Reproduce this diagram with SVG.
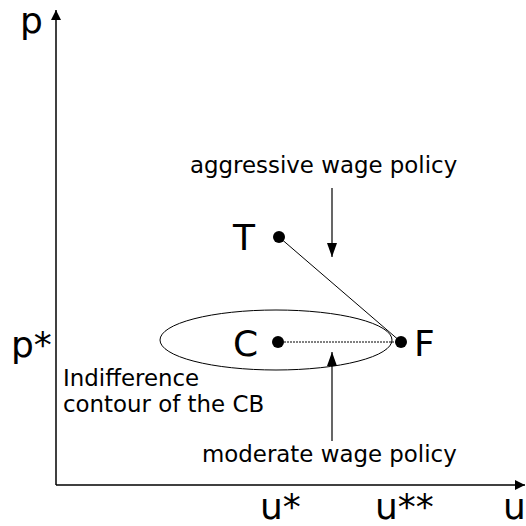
<svg xmlns="http://www.w3.org/2000/svg" width="526" height="526" viewBox="0 0 526 526">
<style>
text{font-family:"DejaVu Sans",sans-serif;fill:#000}
.big{font-size:36px}
.small{font-size:22.9px}
.ln{stroke:#000;fill:none}
</style>
<defs>
<marker id="ah" viewBox="0 0 10 10" refX="10" refY="5" markerWidth="10" markerHeight="10" markerUnits="userSpaceOnUse" orient="auto">
<path d="M0,0 L10,5 L0,10 z" fill="#000"/>
</marker>
<marker id="ah2" viewBox="0 0 14 10" refX="14" refY="5" markerWidth="14" markerHeight="10" markerUnits="userSpaceOnUse" orient="auto">
<path d="M0,0 L14,5 L0,10 z" fill="#000"/>
</marker>
</defs>
<g id="axes">
<line class="ln" x1="56" y1="485" x2="56" y2="10" stroke-width="1.5" marker-end="url(#ah)"/>
<line class="ln" x1="56" y1="485" x2="525" y2="485" stroke-width="1.5" marker-end="url(#ah)"/>
<text class="big" x="20" y="33">p</text>
<text class="big" x="11" y="357">p*</text>
<text class="big" x="260" y="519">u*</text>
<text class="big" x="375" y="519">u**</text>
<text class="big" x="503" y="519">u</text>
</g>
<g id="contour">
<ellipse class="ln" cx="276" cy="340" rx="116" ry="30" stroke-width="1"/>
<text class="small" x="63" y="386">Indifference</text>
<text class="small" x="63" y="412">contour of the CB</text>
</g>
<g id="connectors">
<line class="ln" x1="279" y1="237" x2="401" y2="342" stroke-width="1"/>
<line class="ln" x1="278" y1="342" x2="401" y2="342" stroke-width="1" stroke-dasharray="2,1"/>
<line class="ln" x1="332" y1="188" x2="332" y2="257" stroke-width="1.2" marker-end="url(#ah2)"/>
<line class="ln" x1="332" y1="441" x2="332" y2="352" stroke-width="1.2" marker-end="url(#ah2)"/>
</g>
<g id="T">
<circle cx="279" cy="237" r="6"/>
<text class="big" x="233" y="250">T</text>
</g>
<g id="C">
<circle cx="278" cy="342" r="6"/>
<text class="big" x="233" y="356">C</text>
</g>
<g id="F">
<circle cx="401" cy="342" r="6"/>
<text class="big" x="414" y="356">F</text>
</g>
<g id="labels">
<text class="small" x="190" y="173">aggressive wage policy</text>
<text class="small" x="202" y="462">moderate wage policy</text>
</g>
</svg>
